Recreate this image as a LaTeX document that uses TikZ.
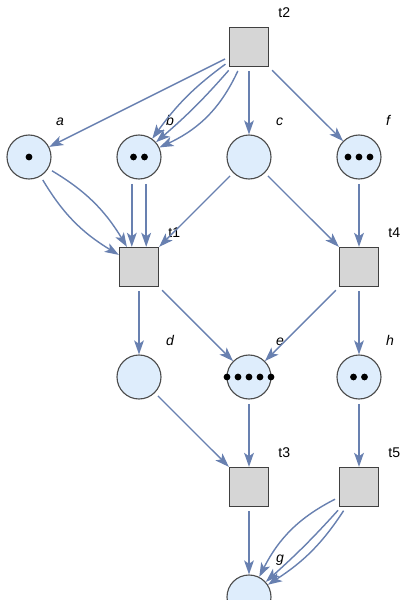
\documentclass[tikz,border=0pt]{standalone}
\usepackage{fontspec}
\setmainfont{Liberation Sans}
\usetikzlibrary{arrows.meta,calc}
\definecolor{arcblue}{RGB}{104,128,176}
\definecolor{placefill}{RGB}{222,237,252}
\definecolor{transfill}{RGB}{214,214,214}

\begin{document}
\begin{tikzpicture}[
  place/.style={circle,draw=black!70,fill=placefill,line width=0.8pt,minimum size=1.1cm,inner sep=0pt},
  trans/.style={rectangle,draw=black!75,fill=transfill,line width=0.8pt,minimum size=0.98cm,inner sep=0pt},
  plbl/.style={label distance=0.3cm,font=\itshape},
  tlbl/.style={label distance=0.15cm},
  arc/.style={-{Stealth[length=10pt,width=7pt,inset=2.5pt]},draw=arcblue,line width=1pt,shorten <=3pt}]
\useasboundingbox (-0.725,1.175) rectangle (9.275,-13.825);
\node[trans,label={[tlbl]45:t2}](t2) at(5.5,0){};
\node[place,label={[plbl]50:a}](a) at(0,-2.75){};
\node[place,label={[plbl]50:b}](b) at(2.75,-2.75){};
\node[place,label={[plbl]50:c}](c) at(5.5,-2.75){};
\node[place,label={[plbl]50:f}](f) at(8.25,-2.75){};
\node[trans,label={[tlbl]45:t1}](t1) at(2.75,-5.5){};
\node[trans,label={[tlbl]45:t4}](t4) at(8.25,-5.5){};
\node[place,label={[plbl]50:d}](d) at(2.75,-8.25){};
\node[place,label={[plbl]50:e}](e) at(5.5,-8.25){};
\node[place,label={[plbl]50:h}](h) at(8.25,-8.25){};
\node[trans,label={[tlbl]45:t3}](t3) at(5.5,-11){};
\node[trans,label={[tlbl]45:t5}](t5) at(8.25,-11){};
\node[place,label={[plbl]50:g}](g) at(5.5,-13.75){};
\foreach \u/\v in {t2/a,t2/c,t2/f,c/t1,c/t4,f/t4,t1/d,t1/e,t4/e,t4/h,d/t3,e/t3,h/t5,t3/g}\draw[arc](\u)--(\v);
\foreach \bnd in {-9,4,20}\draw[arc](t2) to[bend left=\bnd](b);
\foreach \bnd in {-14,14}\draw[arc](a) to[bend left=\bnd](t1);
\foreach \dx in {-0.18,0.18}\draw[arc]([xshift=\dx cm]b.south)--([xshift=\dx cm]t1.north);
\foreach \bnd in {-18,3,12}\draw[arc](t5) to[bend left=\bnd](g);
\foreach \p/\n in {a/1,b/2,f/3,e/5,h/2}\foreach \i in {1,...,\n}\fill($(\p)+({(\i-(\n+1)/2)*0.275},0)$)circle(0.085);
\end{tikzpicture}
\end{document}
